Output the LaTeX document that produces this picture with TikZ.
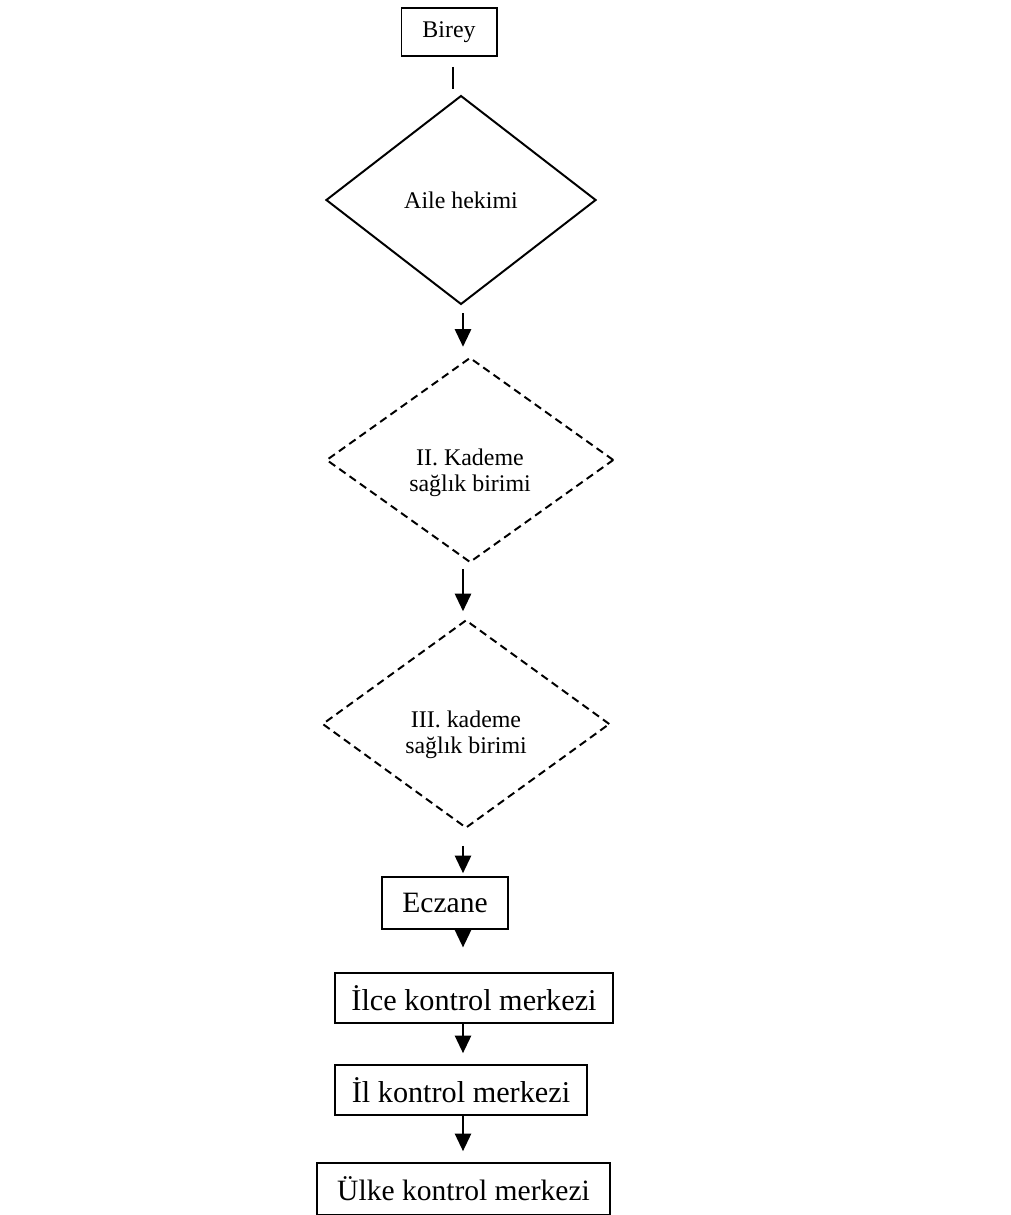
\documentclass[tikz,border=0pt]{standalone}
\usepackage{fontspec}
\setmainfont{Liberation Serif}
\usetikzlibrary{shapes.geometric,arrows.meta}
\tikzset{
    box/.style={draw, line width=1.4pt, rectangle, inner sep=0pt},
    karar/.style={draw, line width=1.4pt, diamond, inner sep=0pt, align=center,
        font=\fontsize{17}{18.5}\selectfont},
    kesik/.style={dash pattern=on 5.5pt off 3.5pt},
    ok/.style={line width=1.5pt, -{Triangle[length=12.5pt,width=11.5pt]}}
}
\begin{document}
\begin{tikzpicture}[x=0.025cm, y=-0.025cm]
        \useasboundingbox (0,0) rectangle (1011,1215);
        % nodes
            \node[box, minimum width=2.375cm, minimum height=1.2cm,
                font=\fontsize{17}{19}\selectfont] (birey) at (449,32) {Birey};
            \node[karar, minimum width=6.75cm, minimum height=5.22cm] (aile) at (461,200) {Aile hekimi};
            \node[karar, kesik, minimum width=7.18cm, minimum height=5.12cm,
                text height=49pt, text depth=4pt] (kd2) at (470,460) {II. Kademe\\sağlık birimi};
            \node[karar, kesik, minimum width=7.18cm, minimum height=5.2cm,
                text height=46pt, text depth=4pt] (kd3) at (466,724) {III. kademe\\sağlık birimi};
            \node[box, minimum width=3.15cm, minimum height=1.3cm,
                font=\fontsize{21}{24}\selectfont] (eczane) at (445,903) {Eczane};
            \node[box, minimum width=6.95cm, minimum height=1.25cm,
                font=\fontsize{21.5}{24}\selectfont] (ilce) at (474,998) {İlce kontrol merkezi};
            \node[box, minimum width=6.3cm, minimum height=1.23cm,
                font=\fontsize{21.5}{24}\selectfont] (il) at (461,1090) {İl kontrol merkezi};
            \node[box, minimum width=7.33cm, minimum height=1.28cm,
                font=\fontsize{21}{24}\selectfont] (ulke) at (463.5,1189) {Ülke kontrol merkezi};
        % links
            \coordinate (eksen) at (463,0);
            \draw[line width=1.4pt, shorten <=7pt, shorten >=4pt] (birey.south -| 453,0) -- (aile.north -| 453,0);
            \foreach \a/\b/\s/\t in {aile/kd2/5.5pt/7pt, kd2/kd3/4pt/5.5pt, kd3/eczane/12pt/2pt,
                                     eczane/ilce/0pt/17.5pt, ilce/il/0pt/8pt, il/ulke/0pt/8pt}{
                \draw[ok, shorten <=\s, shorten >=\t] (\a.south -| eksen) -- (\b.north -| eksen);
            }
        \end{tikzpicture}
\end{document}
